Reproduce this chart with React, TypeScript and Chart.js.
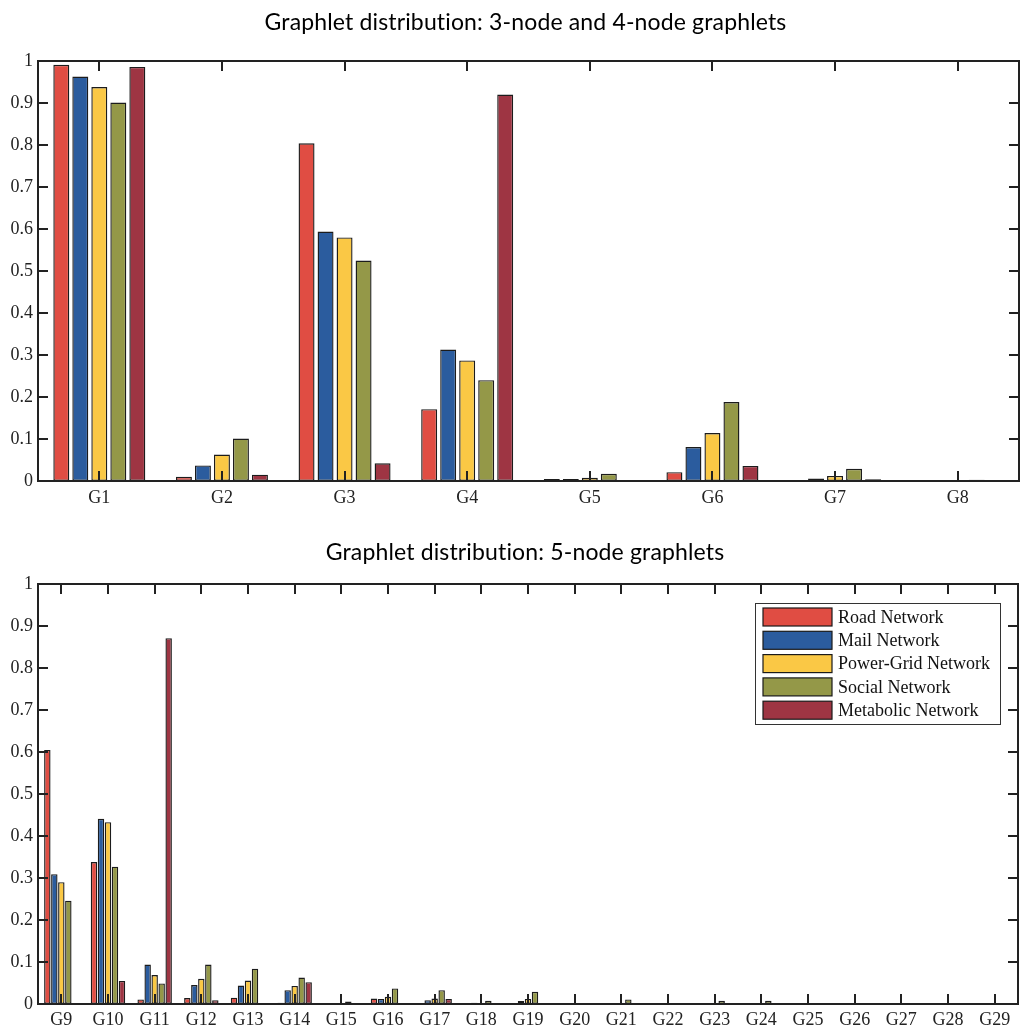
import React, { useEffect, useRef } from "react";
import { Chart, registerables } from "chart.js";

Chart.register(...registerables);

const seriesNames = ["Road Network", "Mail Network", "Power-Grid Network", "Social Network", "Metabolic Network"];
const seriesColors = ["#E04D43", "#2B5C9E", "#FAC845", "#949848", "#9E3543"];

const categories34 = ["G1", "G2", "G3", "G4", "G5", "G6", "G7", "G8"];
const road34 = [0.991, 0.010, 0.804, 0.171, 0.005, 0.021, 0, 0];
const mail34 = [0.963, 0.037, 0.594, 0.313, 0.005, 0.081, 0.006, 0.002];
const power34 = [0.938, 0.063, 0.580, 0.287, 0.008, 0.114, 0.012, 0.002];
const social34 = [0.901, 0.101, 0.525, 0.240, 0.017, 0.188, 0.029, 0.003];
const metab34 = [0.986, 0.015, 0.042, 0.920, 0, 0.036, 0.004, 0];

const categories5 = ["G9", "G10", "G11", "G12", "G13", "G14", "G15", "G16", "G17", "G18", "G19", "G20", "G21", "G22", "G23", "G24", "G25", "G26", "G27", "G28", "G29"];
const road5 = [0.605, 0.338, 0.011, 0.014, 0.015, 0.003, 0.002, 0.013, 0, 0, 0, 0, 0, 0, 0, 0, 0, 0, 0, 0, 0];
const mail5 = [0.309, 0.441, 0.094, 0.045, 0.044, 0.033, 0.002, 0.012, 0.009, 0.003, 0.007, 0, 0, 0, 0.002, 0.002, 0.002, 0, 0, 0, 0];
const power5 = [0.290, 0.433, 0.069, 0.060, 0.056, 0.043, 0.001, 0.017, 0.013, 0.001, 0.012, 0, 0.001, 0, 0.002, 0.001, 0.002, 0, 0, 0, 0];
const social5 = [0.246, 0.327, 0.049, 0.094, 0.084, 0.063, 0.006, 0.037, 0.033, 0.008, 0.029, 0, 0.011, 0.002, 0.008, 0.008, 0.002, 0.002, 0, 0, 0];
const metab5 = [0.002, 0.055, 0.871, 0.009, 0, 0.052, 0, 0, 0.012, 0, 0, 0, 0, 0, 0, 0, 0, 0, 0, 0, 0];

const yTicks = [0, 0.1, 0.2, 0.3, 0.4, 0.5, 0.6, 0.7, 0.8, 0.9, 1];

const title34 = "Graphlet distribution: 3-node and 4-node graphlets";
const title5 = "Graphlet distribution: 5-node graphlets";

const INK = "#222222";
const SERIF = "'Liberation Serif', 'Times New Roman', serif";
const TITLE_FONT = "23px Lato, 'Open Sans', sans-serif";

const framePlugin = {
  id: "frameDeco",
  afterDatasetsDraw(chart: any, _args: any, opts: any) {
    const { ctx, chartArea: a, scales } = chart;
    const x = scales.x;
    const y = scales.y;
    ctx.save();
    ctx.strokeStyle = INK;
    ctx.lineWidth = 2;
    ctx.strokeRect(a.left, a.top, a.right - a.left, a.bottom - a.top);
    const tl = 10;
    ctx.beginPath();
    for (let i = 0; i < x.ticks.length; i++) {
      const px = Math.round(x.getPixelForTick(i));
      ctx.moveTo(px, a.bottom);
      ctx.lineTo(px, a.bottom - tl);
      ctx.moveTo(px, a.top);
      ctx.lineTo(px, a.top + tl);
    }
    for (let i = 0; i < y.ticks.length; i++) {
      const py = Math.round(y.getPixelForTick(i));
      ctx.moveTo(a.left, py);
      ctx.lineTo(a.left + tl, py);
      ctx.moveTo(a.right, py);
      ctx.lineTo(a.right - tl, py);
    }
    ctx.stroke();

    // title
    ctx.fillStyle = "#000";
    ctx.font = TITLE_FONT;
    try {
      (ctx as any).letterSpacing = "0.15px";
    } catch (e) {}
    ctx.textAlign = "center";
    ctx.textBaseline = "alphabetic";
    ctx.fillText(opts.text, (a.left + a.right) / 2 - 3, a.top - opts.titleGap);
    try {
      (ctx as any).letterSpacing = "0px";
    } catch (e) {}

    if (opts.legend) {
      const bw = 245;
      const bh = 121;
      const bx = a.right - 18 - bw;
      const by = a.top + 19;
      ctx.fillStyle = "#fff";
      ctx.fillRect(bx, by, bw, bh);
      ctx.strokeStyle = "#333";
      ctx.lineWidth = 1;
      ctx.strokeRect(bx + 0.5, by + 0.5, bw, bh);
      ctx.font = "18px " + SERIF;
      ctx.textAlign = "left";
      ctx.textBaseline = "middle";
      chart.data.datasets.forEach((ds: any, i: number) => {
        const sy = by + 5 + i * 23.3;
        ctx.fillStyle = ds.backgroundColor;
        ctx.fillRect(bx + 8, sy, 69, 18);
        ctx.strokeStyle = "#1a1a1a";
        ctx.lineWidth = 1.2;
        ctx.strokeRect(bx + 8, sy, 69, 18);
        ctx.fillStyle = "#111";
        ctx.fillText(ds.label, bx + 83, sy + 10);
      });
    }
    ctx.restore();
  },
};

function makeConfig(labels: string[], series: number[][], o: any) {
  return {
    type: "bar",
    data: {
      labels,
      datasets: series.map((d, i) => ({
        label: seriesNames[i],
        data: d,
        backgroundColor: seriesColors[i],
        borderColor: "#1c1c1c",
        borderWidth: 1.4,
        borderSkipped: false,
        categoryPercentage: o.cat,
        barPercentage: o.bar,
      })),
    },
    options: {
      animation: false,
      responsive: false,
      devicePixelRatio: 1,
      layout: { padding: { top: o.top, right: o.right, left: 0, bottom: 0 } },
      plugins: {
        legend: { display: false },
        title: { display: false },
        tooltip: { enabled: false },
        frameDeco: { text: o.title, titleGap: o.titleGap, legend: o.legend },
      },
      scales: {
        x: {
          grid: { display: false, drawTicks: false },
          border: { display: false },
          ticks: {
            autoSkip: false,
            maxRotation: 0,
            padding: o.xpad,
            color: "#222",
            font: { family: SERIF, size: 18 },
          },
          afterFit: (s: any) => {
            s.height = o.xh;
          },
        },
        y: {
          min: 0,
          max: 1,
          grid: { display: false, drawTicks: false },
          border: { display: false },
          afterBuildTicks: (s: any) => {
            s.ticks = yTicks.map((v) => ({ value: v }));
          },
          ticks: {
            padding: 5,
            color: "#222",
            font: { family: SERIF, size: 18 },
            callback: (v: any) => String(+Number(v).toFixed(1)),
          },
          afterFit: (s: any) => {
            s.width = 38;
          },
        },
      },
    },
    plugins: [framePlugin],
  };
}

function BarChart(props: { w: number; h: number; cfg: any; top: number }) {
  const ref = useRef<HTMLCanvasElement | null>(null);
  useEffect(() => {
    if (!ref.current) return;
    const chart = new Chart(ref.current, props.cfg);
    return () => chart.destroy();
  }, []);
  return (
    <canvas
      ref={ref}
      width={props.w}
      height={props.h}
      style={{ position: "absolute", left: 0, top: props.top, width: props.w, height: props.h, display: "block" }}
    />
  );
}

export default function App() {
  const cfgTop = makeConfig(categories34, [road34, mail34, power34, social34, metab34], {
    cat: 0.775,
    bar: 0.84,
    top: 61,
    right: 1,
    xh: 34,
    xpad: 6,
    title: title34,
    titleGap: 31,
    legend: false,
  });
  const cfgBottom = makeConfig(categories5, [road5, mail5, power5, social5, metab5], {
    cat: 0.75,
    bar: 0.92,
    top: 54,
    right: 2,
    xh: 23,
    xpad: 5,
    title: title5,
    titleGap: 24,
    legend: true,
  });
  return (
    <div style={{ position: "absolute", left: 0, top: 0, width: 1020, height: 1027, background: "#fff", overflow: "hidden" }}>
      <BarChart w={1020} h={515} cfg={cfgTop} top={0} />
      <BarChart w={1020} h={497} cfg={cfgBottom} top={530} />
    </div>
  );
}
